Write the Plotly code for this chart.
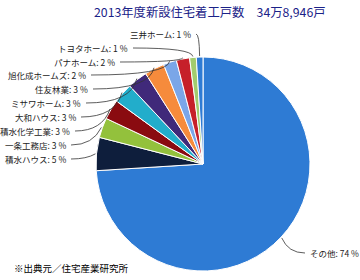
import math
import plotly.graph_objects as go

# ---- data ----
companies = ["その他", "積水ハウス", "一条工務店", "積水化学工業", "大和ハウス", "ミサワホーム",
             "住友林業", "旭化成ホームズ", "パナホーム", "トヨタホーム", "三井ホーム"]
shares = [74, 5, 3, 3, 3, 3, 3, 2, 2, 1, 1]
colors = ["#2E7BD4", "#0E1E3C", "#93C13C", "#8A0B10", "#22ADCB", "#40297A",
          "#F68B3C", "#7AA6E8", "#C6202A", "#A2CC6E", "#2E7BD4"]
title_text = "2013年度新設住宅着工戸数　34万8,946戸"
source_text = "※出典元／住宅産業研究所"

# ---- layout (pixels) ----
W, H = 360, 280
CX, CY, R = 203, 164, 107
# label anchor: (x, y, anchor side) in pixels
label_pos = [(308, 253, "left"), (68, 159, "right"), (68, 145, "right"), (72, 131, "right"),
             (78, 117, "right"), (83, 103, "right"), (90, 89, "right"), (88, 75, "right"),
             (117, 62, "right"), (130, 48, "right"), (193, 34, "right")]

def px(x):
    return x / W

def py(y):
    return 1 - y / H

fig = go.Figure(go.Pie(
    labels=companies, values=shares, sort=False, direction="clockwise",
    marker=dict(colors=colors, line=dict(color="white", width=1)),
    textinfo="none", hoverinfo="label+percent", showlegend=False,
    domain=dict(x=[px(CX - R), px(CX + R)], y=[py(CY + R), py(CY - R)]),
))

total = sum(shares)
cum = 0.0
shapes = []
annotations = []
for name, v, (lx, ly, side) in zip(companies, shares, label_pos):
    mid = (cum + v / 2) / total * 2 * math.pi
    cum += v
    s, c = math.sin(mid), math.cos(mid)
    ex, ey = CX + (R + 1) * s, CY - (R + 1) * c
    ctrlx = CX + (R + 10) * s
    tx = lx + 3 if side == "right" else lx - 3
    path = f"M {px(tx)},{py(ly)} Q {px(ctrlx)},{py(ly)} {px(ex)},{py(ey)}"
    shapes.append(dict(type="path", path=path, xref="paper", yref="paper",
                       line=dict(color="#333333", width=0.8)))
    annotations.append(dict(text=f"{name}: {round(v / total * 100)} %", x=px(lx), y=py(ly),
                            xref="paper", yref="paper", showarrow=False,
                            xanchor=side, yanchor="middle",
                            font=dict(size=8.5, color="#222222", family="Noto Sans CJK JP")))

annotations.append(dict(text=title_text, x=px(210), y=py(12), xref="paper", yref="paper",
                        showarrow=False, xanchor="center", yanchor="middle",
                        font=dict(size=12.3, color="#1A2288", family="Noto Sans CJK JP")))
annotations.append(dict(text=source_text, x=px(12), y=py(268), xref="paper", yref="paper",
                        showarrow=False, xanchor="left", yanchor="middle",
                        font=dict(size=9.5, color="#000000", family="Noto Sans CJK JP")))

fig.update_layout(width=W, height=H, margin=dict(l=0, r=0, t=0, b=0),
                  paper_bgcolor="white", plot_bgcolor="white",
                  shapes=shapes, annotations=annotations)

fig.write_html("out.html")
